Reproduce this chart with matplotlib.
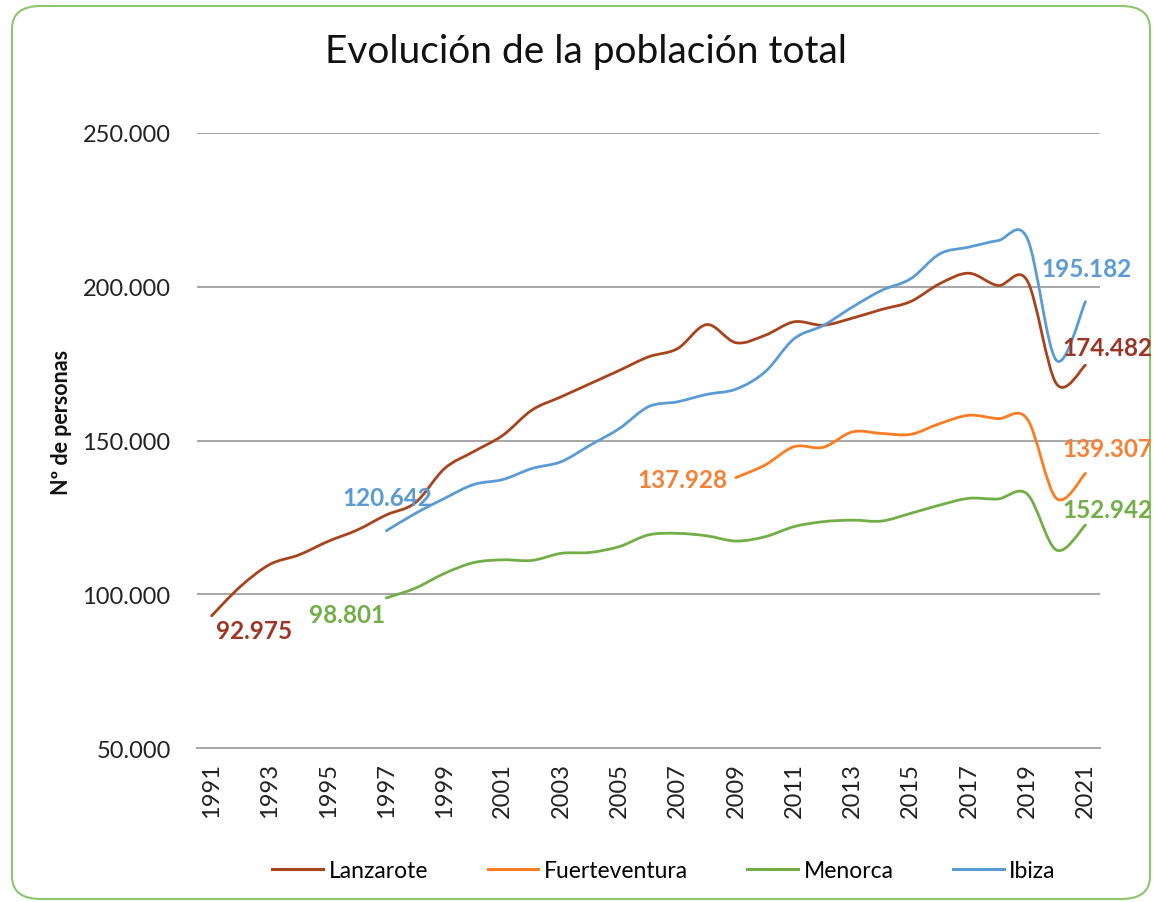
import matplotlib
matplotlib.use("Agg")
import matplotlib.pyplot as plt
import numpy as np
from matplotlib.path import Path
from matplotlib.patches import PathPatch, FancyBboxPatch
from matplotlib.lines import Line2D
from matplotlib.ticker import FuncFormatter

plt.rcParams['font.family'] = ['Lato', 'DejaVu Sans']

# datos (personas)
years = list(range(1991, 2022))

lanzarote = [92975, 102600, 109700, 112800, 117200, 120900, 125800, 129800, 140900, 146400,
             151700, 159900, 164200, 168500, 172800, 177200, 179900, 187700, 181800, 184200,
             188600, 187500, 189800, 192600, 195200, 201000, 204400, 200400, 202000, 168500,
             174482]
ibiza_years = list(range(1997, 2022))
ibiza = [120642, 126300, 131200, 135700, 137300, 140900, 143100, 148500, 153900, 161000,
         162600, 165000, 166700, 172300, 183100, 187400, 193400, 198800, 202600, 210700,
         212900, 215000, 215800, 176100, 195182]
fuerte_years = list(range(2009, 2022))
fuerteventura = [137928, 142000, 148000, 147800, 152800, 152300, 152000, 155500, 158200,
                 157100, 157000, 131200, 139307]
menorca_years = list(range(1997, 2022))
menorca = [98801, 102000, 106800, 110300, 111200, 111000, 113300, 113600, 115500, 119300,
           119800, 119000, 117300, 118700, 122000, 123600, 124100, 123800, 126300, 129000,
           131200, 131000, 132600, 114400, 122500]

names = ['Lanzarote', 'Fuerteventura', 'Menorca', 'Ibiza']
colors = ['#a8441d', '#fb7c23', '#72ae48', '#5b9bd5']

# etiquetas de datos
labels_txt = ['92.975', '98.801', '120.642', '137.928', '195.182', '174.482', '139.307', '152.942']
label_col = ['#9c3526', '#72ae48', '#5b9bd5', '#f58136', '#5b9bd5', '#9c3526', '#f58136', '#72ae48']
label_pos = [(216, 632), (309, 616), (342, 499), (637, 480), (1041, 270), (1062, 349), (1062, 450), (1062, 510)]


def smooth_path(xs, ys):
    # curva suavizada tipo excel (catmull-rom -> bezier)
    p = np.column_stack([xs, ys]).astype(float)
    n = len(p)
    verts = [p[0]]
    codes = [Path.MOVETO]
    for i in range(n - 1):
        p0 = p[i - 1] if i > 0 else p[i]
        p3 = p[i + 2] if i + 2 < n else p[i + 1]
        c1 = p[i] + (p[i + 1] - p0) / 6.0
        c2 = p[i + 1] - (p3 - p[i]) / 6.0
        verts += [c1, c2, p[i + 1]]
        codes += [Path.CURVE4] * 3
    return Path(verts, codes)


W, H = 1154, 903
fig = plt.figure(figsize=(W / 100, H / 100), dpi=100)
ax = fig.add_axes([197 / W, 1 - 749 / H, (1100 - 197) / W, (749 - 134) / H])

series = [(years, lanzarote), (fuerte_years, fuerteventura), (menorca_years, menorca), (ibiza_years, ibiza)]
for idx in [1, 2, 0, 3]:
    xs, ys = series[idx]
    ax.add_patch(PathPatch(smooth_path(xs, ys), facecolor='none', edgecolor=colors[idx],
                           lw=2.0, capstyle='round', joinstyle='round', zorder=3))

ax.set_xlim(1990.5, 2021.5)
ax.set_ylim(50000, 250000)
ax.set_yticks([50000, 100000, 150000, 200000, 250000])
ax.yaxis.set_major_formatter(FuncFormatter(lambda v, p: f"{int(v):,}".replace(',', '.')))
ax.set_xticks(list(range(1991, 2022, 2)))
ax.set_xticklabels([str(y) for y in range(1991, 2022, 2)], rotation=90)
ax.grid(axis='y', color='#a6a6a6', lw=1.4)
ax.set_axisbelow(True)
for s in ['top', 'right', 'left']:
    ax.spines[s].set_visible(False)
ax.spines['bottom'].set_color('#a6a6a6')
ax.spines['bottom'].set_linewidth(1.4)
ax.tick_params(length=0, labelsize=17, colors='#222222')
ax.tick_params(axis='y', pad=19)
ax.tick_params(axis='x', pad=10)

fig.text(62 / W, 1 - 422 / H, 'Nº de personas', rotation=90, ha='center', va='center',
         fontsize=15.5, fontweight='bold', color='#111111')
fig.text(586 / W, 1 - 52 / H, 'Evolución de la población total', ha='center', va='center',
         fontsize=28, color='#111111')

for t, c, (px, py) in zip(labels_txt, label_col, label_pos):
    fig.text(px / W, 1 - py / H, t, ha='left', va='center', fontsize=17.5, fontweight='bold', color=c)

handles = [Line2D([0], [0], color=c, lw=2.2) for c in colors]
fig.legend(handles, names, loc='center', bbox_to_anchor=(664 / W, 1 - 872 / H), ncol=4,
           frameon=False, fontsize=16.5, handlelength=2.2, handletextpad=0.25, columnspacing=2.6)

# marco redondeado verde
fig.patches.append(FancyBboxPatch((12 / W, 3 / H), (1150 - 12) / W, (896 - 3) / H,
                                  boxstyle='round,pad=0,rounding_size=0.025', transform=fig.transFigure,
                                  facecolor='none', edgecolor='#8cc56a', lw=1.5))

fig.savefig('out.png', dpi=100)
